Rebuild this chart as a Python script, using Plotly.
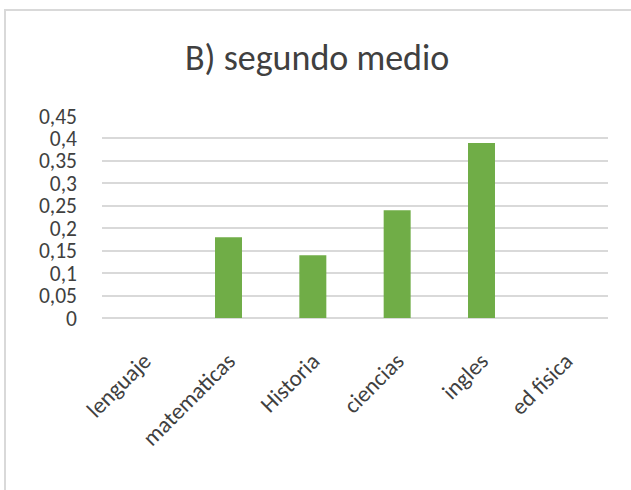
import plotly.graph_objects as go

categories = ["lenguaje", "matematicas", "Historia", "ciencias", "ingles", "ed fisica"]
values = [0, 0.18, 0.14, 0.24, 0.39, 0]
y_ticks = [0, 0.05, 0.1, 0.15, 0.2, 0.25, 0.3, 0.35, 0.4, 0.45]

W, H = 631, 490
ML, MR, MT, MB = 102, 23, 116, 172
PW, PH = W - ML - MR, H - MT - MB

FONT = "Carlito, Calibri, 'Liberation Sans Narrow', 'Open Sans', sans-serif"
TXT = "#404040"


def px_to_paper_x(px):
    return (px - ML) / PW


def px_to_paper_y(py):
    return (H - MB - py) / PH


fig = go.Figure(
    go.Bar(
        x=categories,
        y=values,
        marker=dict(color="#70AD47", line=dict(width=0)),
        width=0.32,
    )
)

fig.update_layout(
    width=W,
    height=H,
    margin=dict(l=ML, r=MR, t=MT, b=MB, pad=0),
    paper_bgcolor="white",
    plot_bgcolor="white",
    separators=",.",
    showlegend=False,
    font=dict(family=FONT, color=TXT, size=22),
    xaxis=dict(
        tickangle=-45,
        showgrid=False,
        showline=False,
        ticks="",
        tickfont=dict(size=23, color=TXT),
        ticklabelstandoff=24,
    ),
    yaxis=dict(
        range=[0, 0.45],
        tickvals=y_ticks,
        showgrid=True,
        gridcolor="#d9d9d9",
        gridwidth=1.5,
        zeroline=True,
        zerolinecolor="#d9d9d9",
        zerolinewidth=1.5,
        showline=False,
        ticks="",
        tickfont=dict(size=21.5, color=TXT),
        ticklabelstandoff=24,
    ),
    annotations=[
        dict(
            text="B) segundo medio",
            xref="paper",
            yref="paper",
            x=px_to_paper_x(317),
            y=px_to_paper_y(58),
            xanchor="center",
            yanchor="middle",
            showarrow=False,
            font=dict(family=FONT, size=36, color=TXT),
        )
    ],
    shapes=[
        dict(
            type="rect",
            xref="paper",
            yref="paper",
            x0=px_to_paper_x(5),
            y0=px_to_paper_y(H + 20),
            x1=px_to_paper_x(W + 20),
            y1=px_to_paper_y(10),
            line=dict(color="#d9d9d9", width=2),
            fillcolor="rgba(0,0,0,0)",
            layer="below",
        )
    ],
)

fig.write_html("out.html")
